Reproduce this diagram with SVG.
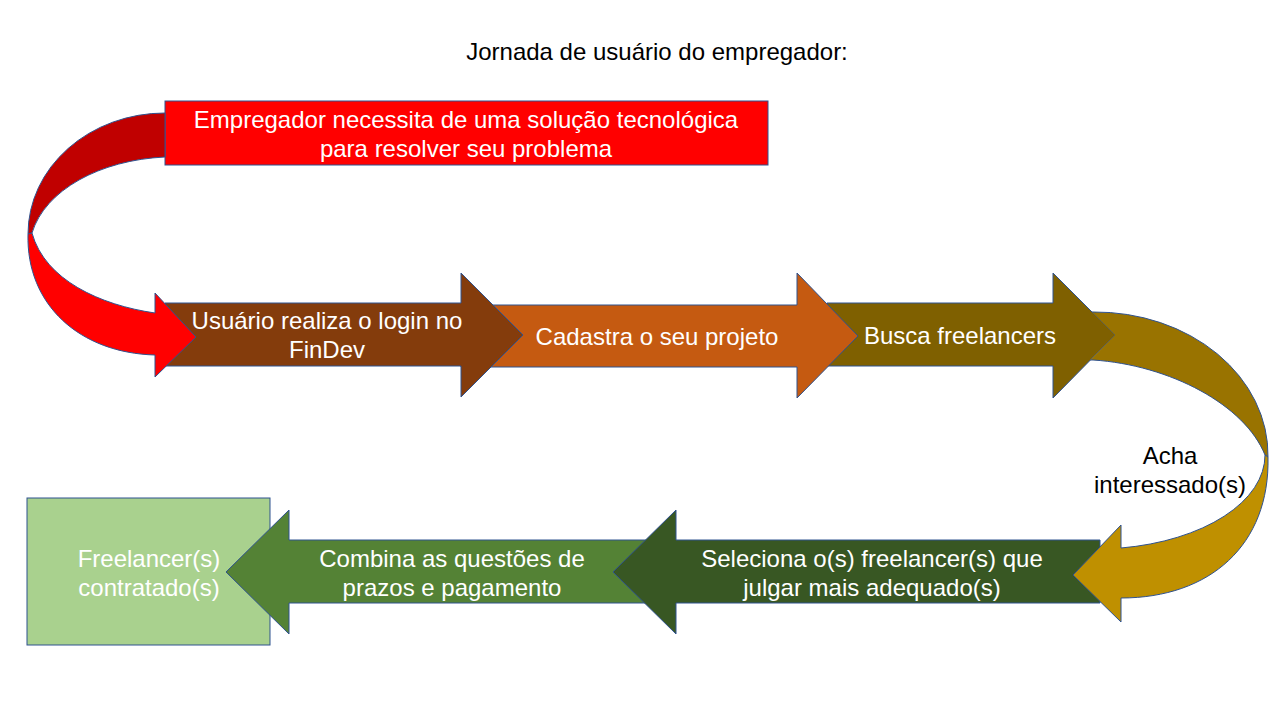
<svg xmlns="http://www.w3.org/2000/svg" width="1280" height="720" viewBox="0 0 1280 720">
<style>
text{font-family:"Liberation Sans",Arial,sans-serif;font-size:24px;text-anchor:middle}
.w{fill:#FFFFFF}
.k{fill:#000000}
.s{stroke:#2F528F;stroke-width:1}
</style>
<defs>
<mask id="m-head" maskUnits="userSpaceOnUse" x="0" y="0" width="1280" height="720">
<rect x="0" y="0" width="1280" height="720" fill="#FFFFFF"/>
<polygon points="1053,273 1115,335 1053,398" fill="#000000"/>
</mask>
</defs>
<rect width="1280" height="720" fill="#FFFFFF"/>
<text class="k" x="657" y="60">Jornada de usuário do empregador:</text>

<g id="n7-box">
<rect class="s" x="27" y="498" width="243" height="147" fill="#A9D18E"/>
<text class="w" x="149" y="567">Freelancer(s)</text>
<text class="w" x="149" y="596">contratado(s)</text>
</g>
<g id="n6-combina">
<polygon class="s" fill="#548235" points="660,540 289,540 289,510 226,572 289,634 289,603 660,603"/>
<text class="w" x="452" y="567">Combina as questões de</text>
<text class="w" x="452" y="596">prazos e pagamento</text>
</g>
<g id="n5-seleciona">
<polygon class="s" fill="#385723" points="1100,540 676,540 676,510 613,572 676,634 676,603 1100,603"/>
<text class="w" x="872" y="567">Seleciona o(s) freelancer(s) que</text>
<text class="w" x="872" y="596">julgar mais adequado(s)</text>
</g>

<g id="n4-busca">
<polygon class="s" fill="#7F6000" points="827,303 1053,303 1053,273 1115,335 1053,398 1053,366 827,366"/>
<text class="w" x="960" y="344">Busca freelancers</text>
</g>
<g id="n3-cadastra">
<polygon class="s" fill="#C55A11" points="461,305 797,305 797,273 858,336 797,398 797,367 461,367"/>
<text class="w" x="657" y="345">Cadastra o seu projeto</text>
</g>
<g id="n2-login">
<polygon class="s" fill="#843C0C" points="165,303 461,303 461,273 523,335 461,397 461,366 165,366"/>
<text class="w" x="327" y="329">Usuário realiza o login no</text>
<text class="w" x="327" y="358">FinDev</text>
</g>

<g id="n1-necessidade">
<rect class="s" x="165" y="101" width="603" height="64" fill="#FF0000"/>
<text class="w" x="466" y="128">Empregador necessita de uma solução tecnológica</text>
<text class="w" x="466" y="157">para resolver seu problema</text>
</g>

<g id="connectors">
<g id="c1">
<path class="s" fill="#C00000" d="M165,113 A137,121 0 0 0 28,234 L32,233 C45,190 100,160 165,157 Z"/>
<path class="s" fill="#FF0000" d="M28,234 C26,305 80,353 155,355 L155,377 L196,337 L155,293 L155,313 C100,305 45,280 32,233 Z"/>
</g>
<g id="c2">
<path class="s" fill="#997300" mask="url(#m-head)" d="M1080,312 L1093,312 A173,143 0 0 1 1268,457 L1265,455 C1245,405 1170,365 1093,360 L1080,360 Z"/>
<path class="s" fill="#BF9000" d="M1268,457 C1270,545 1210,598 1121,598 L1121,622 L1073,575 L1121,525 L1121,548 A170,94 0 0 0 1265,455 Z"/>
</g>
</g>

<text class="k" x="1170" y="464">Acha</text>
<text class="k" x="1170" y="493">interessado(s)</text>
</svg>
